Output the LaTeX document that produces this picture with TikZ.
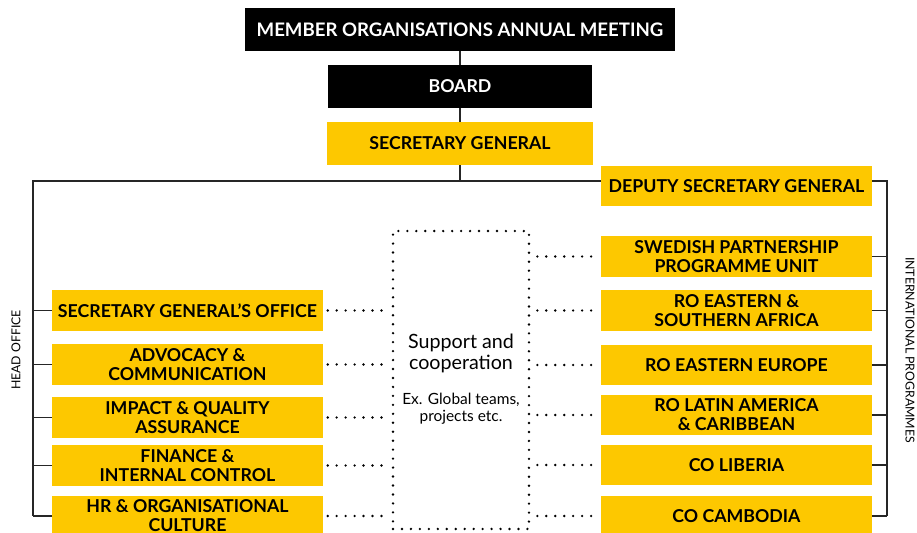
\documentclass[tikz,border=0pt]{standalone}
\usepackage{fontspec}
\setmainfont{Lato}
\usetikzlibrary{positioning}
\definecolor{orgyellow}{RGB}{253,200,0}

\begin{document}
\begin{tikzpicture}
  [x=0.02cm,y=-0.02cm,
  box/.style={
    rectangle,
    fill=orgyellow,
    minimum width=54.2mm,
    minimum height=8.2mm,
    align=center,
    inner sep=0pt,
    font=\bfseries\fontsize{10.1}{10.8}\selectfont
    },
  topbox/.style={
    box,
    fill=black,
    text=white,
    minimum height=8.6mm
    },
  line/.style={draw=black!85,line width=1.1pt},
  dots/.style={draw=black,line width=1.5pt,line cap=round,dash pattern=on 0pt off 5.1pt},
  side/.style={font=\fontsize{7}{8}\selectfont}
  ]
  \useasboundingbox (0,0) rectangle (917,533);
  \clip (0,0) rectangle (917,533);

  % vertice
  \node [topbox, minimum width=86.2mm, font=\bfseries\fontsize{10.6}{12}\selectfont] (meeting) at (460,29.5) {MEMBER ORGANISATIONS ANNUAL MEETING};
  \node [topbox, minimum width=52.8mm] (board) at (460,86.5) {BOARD};
  \node [box, minimum width=53.2mm, minimum height=8.6mm] (secgen) at (460,143.5) {SECRETARY GENERAL};
  \node [box, minimum height=8mm] (deputy) at (736.5,186) {DEPUTY SECRETARY GENERAL};

  % head office
  \node [box] (sgoffice) at (187.5,310.5) {SECRETARY GENERAL'S OFFICE};
  \node [box] (advocacy) at (187.5,364.5) {ADVOCACY \&\\COMMUNICATION};
  \node [box] (impact)   at (187.5,417.5) {IMPACT \& QUALITY\\ASSURANCE};
  \node [box] (finance)  at (187.5,465.5) {FINANCE \&\\INTERNAL CONTROL};
  \node [box] (hr)       at (187.5,516)   {HR \& ORGANISATIONAL\\CULTURE};

  % international programmes
  \node [box] (swedish)  at (736.5,256.5) {SWEDISH PARTNERSHIP\\PROGRAMME UNIT};
  \node [box] (roesa)    at (736.5,310.5) {RO EASTERN \&\\SOUTHERN AFRICA};
  \node [box] (roee)     at (736.5,365)   {RO EASTERN EUROPE};
  \node [box] (rolac)    at (736.5,415)   {RO LATIN AMERICA\\\& CARIBBEAN};
  \node [box] (liberia)  at (736.5,465)   {CO LIBERIA};
  \node [box] (cambodia) at (736.5,516)   {CO CAMBODIA};

  % supporto
  \node [
    dots,
    rectangle,
    minimum width=27.2mm,
    minimum height=59.6mm,
    inner sep=0pt
    ]
    (coop) at (461,380) {};
  \node [align=center, font=\fontsize{11.2}{12}\selectfont] (cooptitle) at (461,353.5) {Support and\\cooperation};
  \node [align=center, font=\fontsize{8.8}{9.6}\selectfont] (coopnote) at (461,408.5) {Ex. Global teams,\\projects etc.};

  \node [side, rotate=90] (headoffice) at (16,350) {HEAD OFFICE};
  \node [side, rotate=-90] (intprog) at (910,350) {INTERNATIONAL PROGRAMMES};

  \coordinate (headtop) at (33,181);
  \coordinate (progtop) at (887,181);

  \draw[line] (meeting.south) -- (board.north);
  \draw[line] (board.south) -- (secgen.north);
  \draw[line] (secgen.south) -- (secgen.south |- headtop);
  \draw[line] (deputy.west |- headtop) -- (headtop) -- (headtop |- hr.west);
  \draw[line] (deputy.east |- progtop) -- (progtop) -- (progtop |- cambodia.east);

  \foreach \b in {sgoffice,advocacy,impact,finance,hr}{
    \draw[line] (headtop |- \b.west) -- (\b.west);
    \draw[dots, shorten <=2.5pt, shorten >=1pt] (\b.east) -- (coop.west |- \b.east);
  }
  \foreach \b in {swedish,roesa,roee,rolac,liberia,cambodia}{
    \draw[dots, shorten <=4pt, shorten >=2pt] (coop.east |- \b.west) -- (\b.west);
    \draw[line] (\b.east) -- (progtop |- \b.east);
  }
\end{tikzpicture}
\end{document}
